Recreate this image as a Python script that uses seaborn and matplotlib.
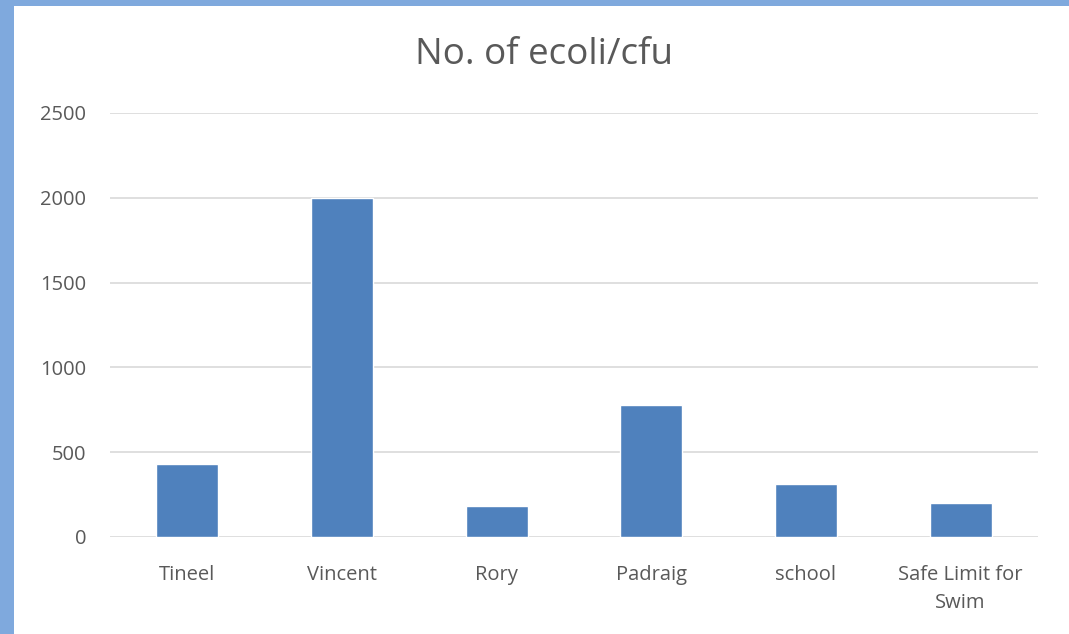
"""
No. of ecoli/cfu bar chart.
"""

import matplotlib.pyplot as plt
from matplotlib.patches import Rectangle
import pandas as pd
import seaborn as sns

sns.set_theme(style="white")
plt.rcParams["font.family"] = ["Open Sans", "DejaVu Sans"]

sites = ["Tineel", "Vincent", "Rory", "Padraig", "school", "Safe Limit for\nSwim"]
ecoli = [430, 2000, 185, 780, 310, 200]
yticks = [0, 500, 1000, 1500, 2000, 2500]

df = pd.DataFrame({"site": sites, "ecoli": ecoli})

fig = plt.figure(figsize=(10.69, 6.34), dpi=100, facecolor="#7FA9DD")
fig.patches.append(Rectangle((14 / 1069, 0), 1, 1 - 6 / 634,
                             transform=fig.transFigure, facecolor="white",
                             edgecolor="none", zorder=-10))
ax = fig.add_axes([110 / 1069, 1 - 537 / 634, 928 / 1069, 424 / 634])
ax.set_facecolor("none")

sns.barplot(data=df, x="site", y="ecoli", color="#4F81BD", width=0.4,
            saturation=1, ax=ax, zorder=3)

ax.set_ylim(0, 2500)
ax.set_yticks(yticks)
ax.set_xlim(-0.5, len(sites) - 0.5)
ax.yaxis.grid(True, color="#D9D9D9", linewidth=1.2)
ax.set_axisbelow(True)
for s in ax.spines.values():
  s.set_visible(False)
ax.tick_params(axis="both", length=0, labelsize=14.5, colors="#595959")
ax.tick_params(axis="y", pad=17)
ax.tick_params(axis="x", pad=20)
for lbl in ax.get_xticklabels():
  lbl.set_linespacing(1.55)
ax.set_xlabel("")
ax.set_ylabel("")
fig.text(544 / 1069, 1 - 55 / 634, "No. of ecoli/cfu", ha="center", va="center",
         fontsize=26.5, color="#595959")

fig.savefig("out.png", dpi=100, facecolor=fig.get_facecolor())
